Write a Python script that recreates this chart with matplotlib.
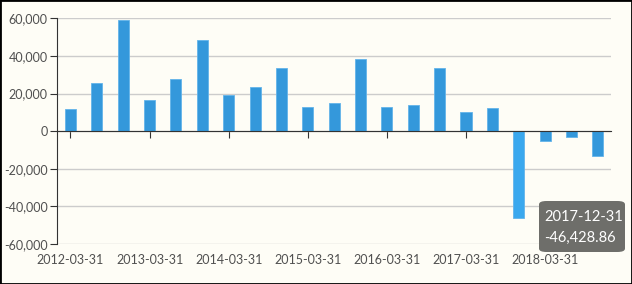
import matplotlib
matplotlib.use("Agg")
import matplotlib.pyplot as plt
from matplotlib.patches import FancyBboxPatch, Rectangle
from matplotlib.ticker import FuncFormatter, FixedLocator

dates = ["2012-03-31", "2012-06-30", "2012-12-31",
         "2013-03-31", "2013-06-30", "2013-12-31",
         "2014-03-31", "2014-06-30", "2014-12-31",
         "2015-03-31", "2015-06-30", "2015-12-31",
         "2016-03-31", "2016-06-30", "2016-12-31",
         "2017-03-31", "2017-06-30", "2017-12-31",
         "2018-03-31", "2018-06-30", "2018-09-30"]
values = [11600, 25500, 58900, 16600, 27800, 48700, 19100, 23500, 33600,
          12700, 15000, 38400, 13100, 13800, 33600, 10400, 12500, -46428.86,
          -5150, -3200, -13300]
highlight_index = 17
y_ticks = [-60000, -40000, -20000, 0, 20000, 40000, 60000]

bg = "#fefdf6"
bar_color = "#3498db"
hi_color = "#3aa8ee"
text_color = "#505050"

fig = plt.figure(figsize=(6.32, 2.84), dpi=100, facecolor=bg)
ax = fig.add_axes([57.3 / 632, 1 - 244 / 284, (611 - 57.3) / 632, (244 - 18.3) / 284])
ax.set_facecolor(bg)

x = list(range(len(dates)))
colors = [hi_color if i == highlight_index else bar_color for i in x]
ax.bar(x, values, width=0.42, color=colors, edgecolor="#63b4ea", linewidth=0.6, zorder=3)

ax.set_xlim(-0.5, len(dates) - 0.5)
ax.set_ylim(-60000, 60000)
ax.set_yticks(y_ticks)
ax.yaxis.set_major_formatter(FuncFormatter(lambda v, p: f"{int(v):,}".replace("\u2212", "-")))
ax.grid(axis="y", color="#cccccc", linewidth=1, zorder=0)
ax.set_axisbelow(True)

for s in ["top", "right"]:
    ax.spines[s].set_visible(False)
ax.spines["left"].set_color("#333333")
ax.spines["bottom"].set_position(("data", 0))
ax.spines["bottom"].set_color("#333333")
ax.spines["bottom"].set_zorder(4)

label_idx = list(range(0, len(dates), 3))
ax.xaxis.set_major_locator(FixedLocator(label_idx))
ax.tick_params(axis="x", direction="out", length=5, color="#333333", labelbottom=False)
ax.tick_params(axis="y", direction="out", length=5, color="#333333", pad=2,
               labelsize=9, labelcolor=text_color)
for lab in ax.get_yticklabels():
    lab.set_family(["Lato", "DejaVu Sans"])

sec = ax.secondary_xaxis("bottom")
sec.set_xticks(label_idx)
sec.set_xticklabels([dates[i] for i in label_idx])
sec.tick_params(length=0, pad=7, labelsize=9, labelcolor=text_color)
sec.spines["bottom"].set_visible(False)
for lab in sec.get_xticklabels():
    lab.set_family(["Lato", "DejaVu Sans"])

# tooltip
W, H = 632, 284
box = FancyBboxPatch((539 / W, 1 - 252 / H), (625 - 539) / W, (252 - 201) / H,
                     boxstyle="round,pad=0,rounding_size=0.012",
                     transform=fig.transFigure, facecolor="#6e6e6a", edgecolor="none", zorder=10)
fig.patches.append(box)
fig.text(544 / W, 1 - 217 / H, dates[highlight_index], color="white", fontsize=10.5,
         family=["Lato", "DejaVu Sans"], va="center", ha="left", zorder=11)
fig.text(544 / W, 1 - 238 / H, f"{values[highlight_index]:,.2f}", color="white", fontsize=10.5,
         family=["Lato", "DejaVu Sans"], va="center", ha="left", zorder=11)

fig.patches.append(Rectangle((0, 0), 1, 1, transform=fig.transFigure, fill=False,
                             edgecolor="black", linewidth=2, zorder=20))

fig.savefig("out.png", dpi=100, facecolor=bg)
